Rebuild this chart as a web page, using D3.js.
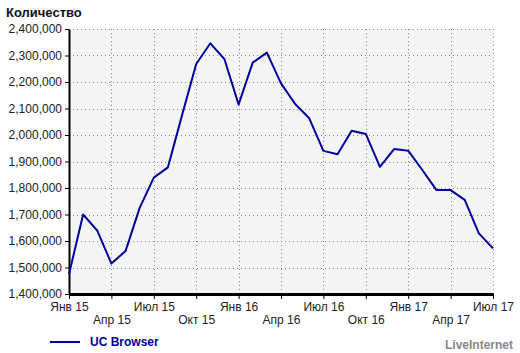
<!DOCTYPE html>
<html>
<head>
<meta charset="utf-8">
<script src="https://cdn.jsdelivr.net/npm/d3@7"></script>
<style type="text/css">
	body { margin:0; background:#fff; }
	svg text { font-family: "Liberation Sans", Arial, sans-serif; }
</style>
</head>
<body>
<svg id="chart" width="520" height="353"></svg>
<script type="text/javascript">
	// monthly values, Jan 15 .. Jul 17
	var months = ["Янв 15","Фев 15","Мар 15","Апр 15","Май 15","Июн 15","Июл 15","Авг 15","Сен 15","Окт 15","Ноя 15","Дек 15",
		"Янв 16","Фев 16","Мар 16","Апр 16","Май 16","Июн 16","Июл 16","Авг 16","Сен 16","Окт 16","Ноя 16","Дек 16",
		"Янв 17","Фев 17","Мар 17","Апр 17","Май 17","Июн 17","Июл 17"];
	var ucBrowser = [1475000,1700000,1639000,1515000,1562000,1725000,1839000,1878000,2075000,2268000,2346000,2286000,
		2115000,2273000,2311000,2195000,2117000,2063000,1940000,1927000,2016000,2004000,1880000,1947000,
		1941000,1868000,1792000,1792000,1755000,1629000,1572000];
	var yTicks = [1400000,1500000,1600000,1700000,1800000,1900000,2000000,2100000,2200000,2300000,2400000];
	var xTickIdx = [0,3,6,9,12,15,18,21,24,27,30];
	var seriesName = "UC Browser";

	var svg = d3.select("#chart"),
	    margin = {top: 29, right: 27, bottom: 59, left: 69},
	    width = 520 - margin.left - margin.right,
	    height = 353 - margin.top - margin.bottom;

	var x = d3.scaleLinear().domain([0, months.length - 1]).range([0, width]),
	    y = d3.scaleLinear().domain([1400000, 2400000]).range([height, 0]);

	var g = svg.append("g")
	    .attr("transform", "translate(" + margin.left + "," + margin.top + ")");

	g.append("rect")
	    .attr("width", width).attr("height", height)
	    .attr("fill", "#f4f4f4");

	// grid
	g.selectAll(".hgrid").data(yTicks).enter().append("line")
	    .attr("x1", 0).attr("x2", width)
	    .attr("y1", function(d) { return Math.round(y(d)) + 0.5; })
	    .attr("y2", function(d) { return Math.round(y(d)) + 0.5; })
	    .attr("stroke", "#888").attr("stroke-dasharray", "1,3");
	g.selectAll(".vgrid").data(xTickIdx).enter().append("line")
	    .attr("x1", function(d) { return Math.round(x(d)) + 0.5; })
	    .attr("x2", function(d) { return Math.round(x(d)) + 0.5; })
	    .attr("y1", 0).attr("y2", height)
	    .attr("stroke", "#888").attr("stroke-dasharray", "1,3");

	// y axis
	var yAxis = g.append("g")
	    .call(d3.axisLeft(y).tickValues(yTicks).tickSize(4).tickSizeOuter(0).tickFormat(d3.format(",")));
	yAxis.select(".domain").attr("stroke", "#000").attr("stroke-width", 2);
	yAxis.selectAll("text").attr("font-size", 12).attr("fill", "#222").attr("x", -7);
	yAxis.selectAll("line").attr("stroke", "#000");

	// x axis
	var xAxis = g.append("g")
	    .attr("transform", "translate(0," + height + ")")
	    .call(d3.axisBottom(x).tickValues(xTickIdx).tickSize(5).tickSizeOuter(0)
	        .tickFormat(function(d) { return months[d]; }));
	xAxis.select(".domain").attr("stroke", "#000").attr("stroke-width", 3);
	xAxis.selectAll("line").attr("stroke", "#000");
	xAxis.selectAll("text")
	    .attr("font-size", 12).attr("fill", "#222")
	    .attr("y", function(d, i) { return i % 2 ? 21 : 8; });

	// series
	var line = d3.line()
	    .x(function(d, i) { return x(i); })
	    .y(function(d) { return y(d); });
	g.append("path")
	    .datum(ucBrowser)
	    .attr("d", line)
	    .attr("fill", "none")
	    .attr("stroke", "#00009c")
	    .attr("stroke-width", 2)
	    .attr("stroke-linejoin", "round");

	// title
	svg.append("text")
	    .attr("x", 6).attr("y", 17)
	    .attr("font-size", 13).attr("font-weight", "bold").attr("fill", "#111")
	    .text("Количество");

	// legend
	svg.append("line")
	    .attr("x1", 50).attr("x2", 80).attr("y1", 342).attr("y2", 342)
	    .attr("stroke", "#00009c").attr("stroke-width", 2);
	svg.append("text")
	    .attr("x", 90).attr("y", 346)
	    .attr("font-size", 12).attr("font-weight", "bold").attr("fill", "#00009c")
	    .text(seriesName);
	svg.append("text")
	    .attr("x", 513).attr("y", 349).attr("text-anchor", "end")
	    .attr("font-size", 12).attr("font-weight", "bold").attr("fill", "#888")
	    .text("LiveInternet");
</script>
</body>
</html>
